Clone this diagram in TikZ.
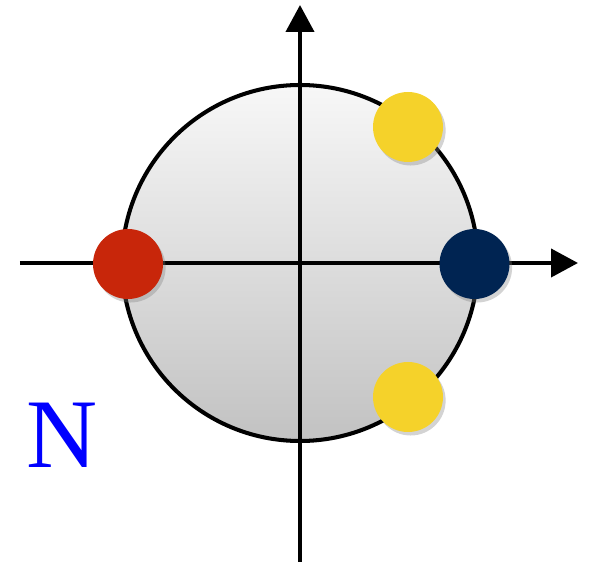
\documentclass[tikz,border=0pt]{standalone}
\usepackage{fontspec}
\usepackage{xcolor}
\usepackage{tikz}
\usetikzlibrary{arrows.meta,shadows}
\newfontfamily\labelfont{Liberation Serif}
\definecolor{dotred}{HTML}{C8260A}
\definecolor{dotnavy}{HTML}{002452}
\definecolor{dotyellow}{HTML}{F5D22A}

\begin{document}
\begin{tikzpicture}[
  disc/.style={circle,draw,line width=2.3pt,minimum size=7.12cm,inner sep=0pt,top color=black!3,bottom color=black!24},
  dot/.style={circle,minimum size=1.4cm,inner sep=0pt,drop shadow={shadow xshift=1.5pt,shadow yshift=-2pt,opacity=0.35}},
  ax/.style={-{Triangle[length=0.54cm,width=0.56cm]},line width=2.3pt}]
  \useasboundingbox (-6,-5.98) rectangle (6.02,5.26);
  \node[disc] (unit) at (0,0) {};
  \coordinate (xl) at (-5.6,0);
  \coordinate (xr) at (5.56,0);
  \coordinate (yb) at (0,-6.1);
  \coordinate (yt) at (0,5.16);
  \draw[ax] (xl) -- (xr);
  \draw[ax] (yb) -- (yt);
  \node[dot,fill=dotred] (rd) at (-3.44,-0.02) {};
  \node[dot,fill=dotnavy] (nv) at (3.49,-0.02) {};
  \node[dot,fill=dotyellow] (yu) at (2.16,2.72) {};
  \node[dot,fill=dotyellow] (yd) at (2.16,-2.68) {};
  \node[font=\labelfont\fontsize{56}{56}\selectfont,text=blue,inner sep=0pt] (lbl) at (-4.76,-3.44) {N};
\end{tikzpicture}
\end{document}
